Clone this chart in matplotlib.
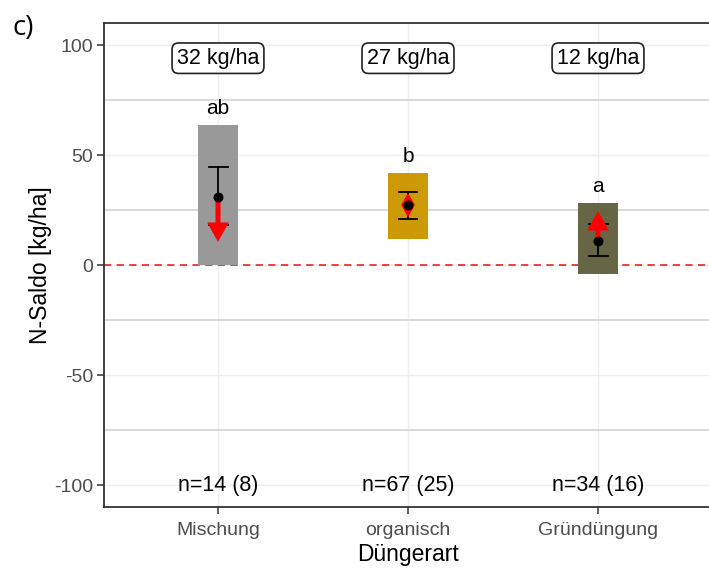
import matplotlib
matplotlib.use("Agg")
import matplotlib.pyplot as plt
from matplotlib.patches import FancyArrowPatch, ArrowStyle
from matplotlib.ticker import MultipleLocator

plt.rcParams['font.family'] = ['Liberation Sans', 'DejaVu Sans']
plt.rcParams['axes.unicode_minus'] = False

categories = ["Mischung", "organisch", "Gründüngung"]
bar_low = [0.0, 12.0, -4.0]
bar_high = [63.5, 42.0, 28.0]
bar_colors = ["#999999", "#CC9A06", "#666647"]
means = [31.0, 27.3, 10.8]
err_low = [18.2, 21.0, 4.3]
err_high = [44.4, 33.0, 18.7]
arrow_start = [31.0, 27.3, 10.8]
arrow_end = [10.5, 21.6, 24.5]
arrow_up_end = [None, 32.8, None]
letters = ["ab", "b", "a"]
saldo_labels = ["32 kg/ha", "27 kg/ha", "12 kg/ha"]
n_labels = ["n=14 (8)", "n=67 (25)", "n=34 (16)"]

fig = plt.figure(figsize=(7.09, 5.70), dpi=100)
ax = fig.add_axes([104/709, 1-507/570, (712-104)/709, (507-23)/570])

x = [1, 2, 3]
ax.set_xlim(0.4, 3.6)
ax.set_ylim(-110, 110)

# grid
ax.yaxis.set_major_locator(MultipleLocator(50))
ax.yaxis.set_minor_locator(MultipleLocator(25))
ax.set_xticks(x)
ax.set_xticklabels(categories)
ax.grid(which='major', axis='both', color='#EEEEEE', lw=1.0, zorder=0)
ax.grid(which='minor', axis='y', color='#D9D9D9', lw=1.4, zorder=0)
ax.set_axisbelow(True)
ax.tick_params(axis='y', which='minor', length=0)

# zero line
ax.axhline(0, color='#F03030', lw=1.3, ls=(0, (4, 3)), zorder=1.5)

# bars
w = 0.215
for xi, lo, hi, c in zip(x, bar_low, bar_high, bar_colors):
    ax.bar(xi, hi - lo, bottom=lo, width=w, color=c, zorder=2)

# error bars
cap = 0.05
for xi, lo, hi in zip(x, err_low, err_high):
    ax.plot([xi, xi], [lo, hi], color='black', lw=1.3, zorder=3)
    ax.plot([xi - cap, xi + cap], [lo, lo], color='black', lw=1.3, zorder=3)
    ax.plot([xi - cap, xi + cap], [hi, hi], color='black', lw=1.3, zorder=3)

# red arrows
hw = 0.036
for xi, s, e, up in zip(x, arrow_start, arrow_end, arrow_up_end):
    if up is not None:
        # very short change: arrow heads merge into a diamond
        ax.fill([xi, xi + hw, xi, xi - hw], [up, s, e, s], color='red', lw=0, zorder=4)
    else:
        style = ArrowStyle('-|>', head_length=0.5, head_width=0.28)
        arr = FancyArrowPatch((xi, s), (xi, e), arrowstyle=style, mutation_scale=17,
                              color='red', lw=3.6, shrinkA=0, shrinkB=0, zorder=4,
                              joinstyle='miter', capstyle='butt')
        ax.add_patch(arr)

# mean points
ax.scatter(x, means, s=38, color='black', zorder=5)

# letters
for xi, hi, t in zip(x, bar_high, letters):
    ax.text(xi, hi + 3.2, t, ha='center', va='bottom', fontsize=15, color='black', zorder=6)

# saldo boxes
for xi, t in zip(x, saldo_labels):
    ax.text(xi, 94, t, ha='center', va='center', fontsize=15.5, color='black', zorder=6,
            bbox=dict(boxstyle='round,pad=0.22,rounding_size=0.3', fc='white', ec='#222222', lw=1.2))

# n labels
for xi, t in zip(x, n_labels):
    ax.text(xi, -100, t, ha='center', va='center', fontsize=15.5, color='black', zorder=6)

for sp in ['left', 'bottom', 'top', 'right']:
    ax.spines[sp].set_color('#333333')
    ax.spines[sp].set_linewidth(1.3)

ax.tick_params(axis='both', which='major', length=5, width=1.1, color='#333333',
               labelcolor='#4D4D4D', labelsize=14)
ax.tick_params(axis='x', pad=6)
ax.tick_params(axis='y', pad=3)

ax.set_ylabel("N-Saldo [kg/ha]", fontsize=16.5, color='black', va='center')
ax.yaxis.set_label_coords(-(104 - 41) / 608, 0.5)
ax.set_xlabel("Düngerart", fontsize=16.5, color='black', labelpad=3)

fig.text(12/709, 1-28/570, "c)", fontsize=20, ha='left', va='center',
         family=['Open Sans', 'DejaVu Sans'])

fig.savefig("out.png", dpi=100)
